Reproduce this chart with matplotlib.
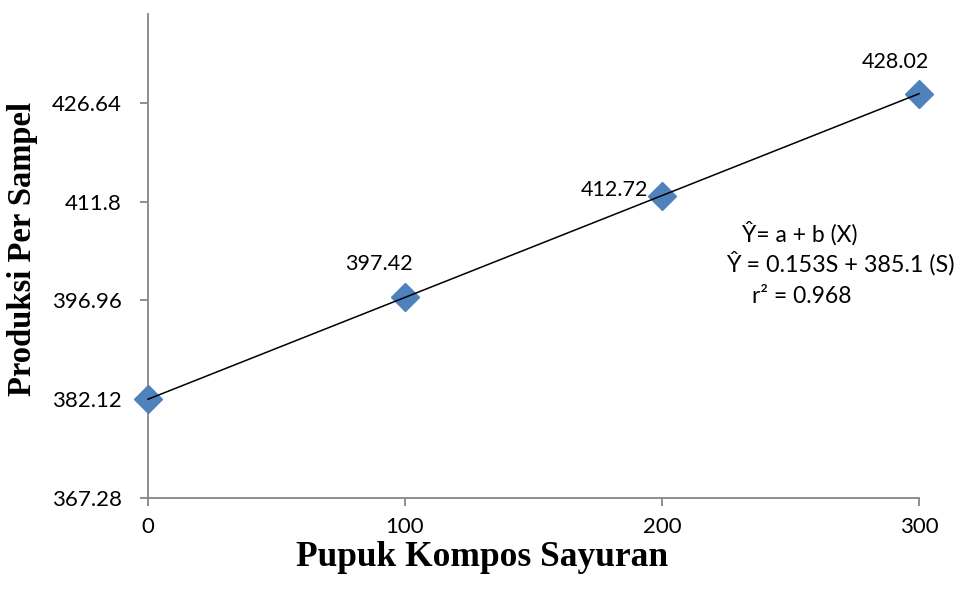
import matplotlib
matplotlib.use("Agg")
import matplotlib.pyplot as plt
import numpy as np

# data
kompos = [0, 100, 200, 300]
produksi = [382.12, 397.42, 412.72, 428.02]
y_ticks = [367.28, 382.12, 396.96, 411.8, 426.64]
y_tick_labels = ["367.28", "382.12", "396.96", "411.8", "426.64"]
x_ticks = [0, 100, 200, 300]
# which points get a value label, and where (offset in points)
label_idx = [1, 2, 3]
label_offsets = [(-19, 24), (-10, 4), (-17, 23)]
label_ha = ["center", "right", "center"]

AXIS_GREY = "#868686"
BLUE = "#4F81BD"


def main():
    plt.rcParams['font.family'] = ['Lato', 'DejaVu Sans']
    fig = plt.figure(figsize=(9.61, 5.93), dpi=100)
    ax = fig.add_axes([0.154, 0.1602, 0.8023, 0.8162])

    x = np.array(kompos, dtype=float)
    y = np.array(produksi)

    # points
    ax.plot(x, y, linestyle="none", marker="D", markersize=14,
            color=BLUE, markeredgecolor=BLUE, zorder=3, clip_on=False)

    # linear trend line
    b, a = np.polyfit(x, y, 1)
    xx = np.array([x.min(), x.max()])
    ax.plot(xx, a + b * xx, color="black", linewidth=1.1, zorder=4,
            clip_on=False)

    # value labels
    for i, off, ha in zip(label_idx, label_offsets, label_ha):
        ax.annotate(f"{produksi[i]:.2f}", (kompos[i], produksi[i]),
                    xytext=off, textcoords="offset points",
                    ha=ha, va="center", fontsize=15.5, color="black")

    # equation text
    ax.text(253.7, 407.1, "Ŷ= a + b (X)", fontsize=16.5, ha="center", va="center")
    ax.text(269.5, 402.6, "Ŷ = 0.153S + 385.1 (S)", fontsize=16.8,
            ha="center", va="center")
    ax.text(254.5, 397.6, "r² = 0.968", fontsize=16.5, ha="center", va="center")

    ax.set_xlim(0, 300)
    ax.set_ylim(367.28, 440.0)
    ax.set_xticks(x_ticks)
    ax.set_yticks(y_ticks)
    ax.set_yticklabels(y_tick_labels)

    for side in ["top", "right"]:
        ax.spines[side].set_visible(False)
    for side in ["left", "bottom"]:
        ax.spines[side].set_color(AXIS_GREY)
        ax.spines[side].set_linewidth(1.3)
    ax.tick_params(axis="both", direction="out", length=6, width=1.3,
                   color=AXIS_GREY, labelsize=16, labelcolor="black")
    ax.tick_params(axis="x", pad=8)
    ax.tick_params(axis="y", pad=13)

    # axis titles placed where they sit in the original
    fig.text(482 / 961, 1 - 557 / 593, "Pupuk Kompos Sayuran",
             family="Liberation Serif", fontweight="bold", fontsize=25.5,
             ha="center", va="center")
    fig.text(23 / 961, 1 - 249 / 593, "Produksi Per Sampel",
             family="Liberation Serif", fontweight="bold", fontsize=23.5,
             ha="center", va="center", rotation=90)

    fig.savefig("out.png", dpi=100)


if __name__ == "__main__":
    main()
